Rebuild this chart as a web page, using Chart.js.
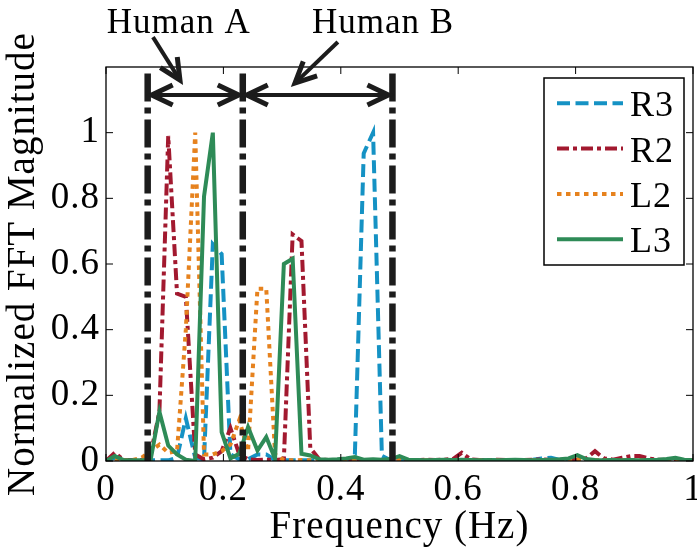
<!DOCTYPE html>
<html>
<head>
<meta charset="utf-8">
<script src="https://cdn.jsdelivr.net/npm/chart.js@4.4.1/dist/chart.umd.min.js"></script>
<style>
  html, body { margin: 0; padding: 0; background: #fff; }
  #wrap { width: 697px; height: 553px; }
</style>
</head>
<body>
<div id="wrap"><canvas id="fftChart" width="697" height="553"></canvas></div>
<script>
// FFT bins (Hz)
const freq = [
  0, 0.015, 0.030, 0.045, 0.061, 0.076, 0.091, 0.106, 0.121, 0.136,
  0.152, 0.167, 0.182, 0.197, 0.212, 0.227, 0.242, 0.258, 0.273, 0.288,
  0.303, 0.318, 0.333, 0.348, 0.364, 0.379, 0.394, 0.409, 0.424, 0.439,
  0.455, 0.470, 0.485, 0.500, 0.515, 0.530, 0.545, 0.561, 0.576, 0.591,
  0.606, 0.621, 0.636, 0.652, 0.667, 0.682, 0.697, 0.712, 0.727, 0.742,
  0.758, 0.773, 0.788, 0.803, 0.818, 0.833, 0.848, 0.864, 0.879, 0.894,
  0.909, 0.924, 0.939, 0.955, 0.970, 0.985, 1.000
];

const r3 = [
  0, 0.01, 0.002, 0.002, 0.002, 0.002, 0.002, 0.002, 0.01, 0.13,
  0.01, 0.005, 0.66, 0.63, 0.02, 0.005, 0.005, 0.02, 0.02, 0.003,
  0.002, 0.002, 0.002, 0.002, 0.002, 0.002, 0.002, 0.002, 0.02, 0.937,
  1.0, 0.016, 0.002, 0.002, 0.002, 0.002, 0.002, 0.002, 0.002, 0.002,
  0.002, 0.002, 0.002, 0.002, 0.002, 0.002, 0.002, 0.002, 0.004, 0.008,
  0.01, 0.003, 0.002, 0.002, 0.002, 0.002, 0.002, 0.002, 0.002, 0.002,
  0.002, 0.002, 0.002, 0.002, 0.002, 0.002, 0.002
];

const r2 = [
  0, 0.025, 0.003, 0.002, 0.003, 0.02, 0.15, 0.99, 0.51, 0.5,
  0.02, 0.005, 0.01, 0.03, 0.1, 0.02, 0.005, 0.003, 0.004, 0.003,
  0.005, 0.69, 0.67, 0.04, 0.004, 0.003, 0.002, 0.003, 0.002, 0.003,
  0.002, 0.003, 0.002, 0.003, 0.002, 0.003, 0.004, 0.003, 0.004, 0.006,
  0.025, 0.005, 0.003, 0.002, 0.004, 0.003, 0.002, 0.003, 0.004, 0.005,
  0.003, 0.002, 0.003, 0.004, 0.008, 0.03, 0.008, 0.004, 0.01, 0.015,
  0.015, 0.008, 0.004, 0.003, 0.002, 0.003, 0.002
];

const l2 = [
  0, 0.005, 0.002, 0.003, 0.01, 0.03, 0.05, 0.025, 0.03, 0.4,
  1.0, 0.02, 0.02, 0.03, 0.05, 0.125, 0.03, 0.525, 0.525, 0.02,
  0.003, 0.002, 0.003, 0.002, 0.003, 0.002, 0.002, 0.003, 0.002, 0.002,
  0.002, 0.002, 0.003, 0.006, 0.002, 0.002, 0.002, 0.002, 0.002, 0.002,
  0.002, 0.002, 0.002, 0.002, 0.002, 0.002, 0.002, 0.002, 0.002, 0.002,
  0.002, 0.002, 0.002, 0.005, 0.002, 0.002, 0.002, 0.002, 0.002, 0.002,
  0.002, 0.002, 0.002, 0.002, 0.005, 0.002, 0.002
];

const l3 = [
  0, 0.015, 0.003, 0.002, 0.002, 0.003, 0.15, 0.047, 0.02, 0.004,
  0, 0.806, 1.0, 0.088, 0.008, 0.022, 0.103, 0.032, 0.073, 0.007,
  0.6, 0.616, 0.022, 0.017, 0.005, 0.004, 0.005, 0.008, 0.012, 0.004,
  0.005, 0.004, 0.006, 0.015, 0.004, 0.003, 0.002, 0.003, 0.004, 0.003,
  0.004, 0.003, 0.002, 0.003, 0.002, 0.003, 0.004, 0.003, 0.002, 0.003,
  0.004, 0.005, 0.008, 0.018, 0.006, 0.003, 0.002, 0.003, 0.002, 0.003,
  0.002, 0.003, 0.004, 0.006, 0.01, 0.004, 0.002
];

const seriesLabels = ["R3", "R2", "L2", "L3"];
const xTickValues = [0, 0.2, 0.4, 0.6, 0.8, 1];
const xTickLabels = ["0", "0.2", "0.4", "0.6", "0.8", "1"];
const yTickValues = [0, 0.2, 0.4, 0.6, 0.8, 1];
const yTickLabels = ["0", "0.2", "0.4", "0.6", "0.8", "1"];

// annotation: boundaries between the two people, in Hz
const humanBounds = [0.071, 0.233, 0.488];
const humanNames = ["Human A", "Human B"];

const SERIF = '"Liberation Serif", "DejaVu Serif", serif';
Chart.defaults.font.family = SERIF;
Chart.defaults.color = "#000";

const toPoints = (vals) => vals.map((v, i) => ({ x: freq[i], y: v }));

function arrowHead(ctx, tx, ty, fx, fy, len, half) {
  const d = Math.hypot(tx - fx, ty - fy);
  const ux = (tx - fx) / d, uy = (ty - fy) / d;
  const bx = tx - ux * len, by = ty - uy * len;
  ctx.beginPath();
  ctx.moveTo(bx - uy * half, by + ux * half);
  ctx.lineTo(tx, ty);
  ctx.lineTo(bx + uy * half, by - ux * half);
  ctx.stroke();
}

function arrow(ctx, fx, fy, tx, ty, both) {
  ctx.lineWidth = 4;
  ctx.beginPath();
  ctx.moveTo(fx, fy);
  ctx.lineTo(tx, ty);
  ctx.stroke();
  ctx.lineWidth = 5;
  arrowHead(ctx, tx, ty, fx, fy, 21, 10);
  if (both) arrowHead(ctx, fx, fy, tx, ty, 21, 10);
}

const overlay = {
  id: "overlay",
  beforeDraw(chart) {
    chart.ctx.letterSpacing = "1px";
  },
  afterDatasetsDraw(chart) {
    const { ctx, scales: { x, y } } = chart;
    ctx.save();
    // dash-dot boundary lines
    ctx.strokeStyle = "#1c1c1c";
    ctx.lineWidth = 6.5;
    ctx.lineCap = "butt";
    ctx.setLineDash([28, 6, 6, 6]);
    humanBounds.forEach((b) => {
      const px = x.getPixelForValue(b);
      ctx.beginPath();
      ctx.moveTo(px, y.getPixelForValue(1.18));
      ctx.lineTo(px, y.getPixelForValue(0));
      ctx.stroke();
    });
    // double-headed range arrows
    ctx.setLineDash([]);
    ctx.lineJoin = "miter";
    const ay = y.getPixelForValue(1.115);
    for (let i = 0; i < humanBounds.length - 1; i++) {
      const a = x.getPixelForValue(humanBounds[i]) + 4;
      const b = x.getPixelForValue(humanBounds[i + 1]) - 4;
      arrow(ctx, a, ay, b, ay, true);
    }
    ctx.restore();
  },
  afterDraw(chart) {
    const { ctx, chartArea: area, scales: { x, y } } = chart;
    ctx.save();
    ctx.letterSpacing = "1px";
    // box + inward ticks
    ctx.strokeStyle = "#000";
    ctx.lineWidth = 1.3;
    ctx.setLineDash([]);
    ctx.strokeRect(area.left, area.top, area.right - area.left, area.bottom - area.top);
    ctx.lineWidth = 1;
    ctx.beginPath();
    xTickValues.forEach((v) => {
      const px = x.getPixelForValue(v);
      ctx.moveTo(px, area.bottom); ctx.lineTo(px, area.bottom - 7);
      ctx.moveTo(px, area.top); ctx.lineTo(px, area.top + 7);
    });
    yTickValues.forEach((v) => {
      const py = y.getPixelForValue(v);
      ctx.moveTo(area.left, py); ctx.lineTo(area.left + 7, py);
      ctx.moveTo(area.right, py); ctx.lineTo(area.right - 7, py);
    });
    ctx.stroke();

    // legend
    const boxW = 140, boxH = 187;
    const boxL = area.right - 9 - boxW, boxT = area.top + 11;
    ctx.fillStyle = "#fff";
    ctx.fillRect(boxL, boxT, boxW, boxH);
    ctx.lineWidth = 1.5;
    ctx.strokeRect(boxL, boxT, boxW, boxH);
    ctx.font = "36px " + SERIF;
    ctx.textBaseline = "alphabetic";
    ctx.textAlign = "left";
    chart.data.datasets.forEach((ds, i) => {
      const cy = boxT + 25.3 + i * 45.3;
      ctx.strokeStyle = ds.borderColor;
      ctx.lineWidth = ds.borderWidth;
      ctx.setLineDash(ds.borderDash || []);
      ctx.beginPath();
      ctx.moveTo(boxL + 13, cy);
      ctx.lineTo(boxL + 79, cy);
      ctx.stroke();
      ctx.fillStyle = "#000";
      ctx.fillText(ds.label, boxL + 86, cy + 13);
    });

    // "Human A / Human B" labels with pointer arrows
    ctx.setLineDash([]);
    ctx.strokeStyle = "#1c1c1c";
    ctx.font = "35px " + SERIF;
    ctx.textAlign = "center";
    ctx.fillStyle = "#000";
    const baseY = y.getPixelForValue(1.305);
    ctx.fillText(humanNames[0], x.getPixelForValue(0.124), baseY);
    ctx.fillText(humanNames[1], x.getPixelForValue(0.472), baseY);
    arrow(ctx, x.getPixelForValue(0.080), y.getPixelForValue(1.291),
      x.getPixelForValue(0.126), y.getPixelForValue(1.160), false);
    arrow(ctx, x.getPixelForValue(0.395), y.getPixelForValue(1.276),
      x.getPixelForValue(0.322), y.getPixelForValue(1.151), false);
    ctx.restore();
  },
};

const styles = [
  { color: "#1592c4", dash: [13, 5.5], order: 3 },
  { color: "#a2192f", dash: [12, 4, 4, 4], order: 2 },
  { color: "#e6821e", dash: [4.5, 4.5], order: 1 },
  { color: "#2e8b57", dash: [], order: 0 },
];
const allSeries = [r3, r2, l2, l3];

const ctx = document.getElementById("fftChart").getContext("2d");
const fftChart = new Chart(ctx, {
  type: "line",
  data: {
    datasets: allSeries.map((vals, i) => ({
      label: seriesLabels[i],
      data: toPoints(vals),
      borderColor: styles[i].color,
      borderDash: styles[i].dash,
      borderWidth: 4,
      pointRadius: 0,
      tension: 0,
      fill: false,
      order: styles[i].order,
    })),
  },
  options: {
    responsive: false,
    animation: false,
    layout: { padding: { top: 67, right: 4, left: 0, bottom: 0 } },
    plugins: {
      legend: { display: false },
      tooltip: { enabled: false },
    },
    scales: {
      x: {
        type: "linear",
        min: 0,
        max: 1,
        grid: { display: false, drawTicks: false },
        border: { display: false },
        afterBuildTicks: (s) => { s.ticks = xTickValues.map((v) => ({ value: v })); },
        afterFit: (s) => { s.height = 92; s.paddingLeft = 0; s.paddingRight = 0; },
        ticks: {
          maxRotation: 0,
          padding: 7,
          font: { size: 37 },
          callback: (v, i) => xTickLabels[i],
        },
        title: {
          display: true,
          text: "Frequency (Hz)",
          font: { size: 39, lineHeight: 1 },
          padding: { top: 0, bottom: 6 },
        },
      },
      y: {
        type: "linear",
        min: 0,
        max: 1.2,
        grid: { display: false, drawTicks: false },
        border: { display: false },
        afterBuildTicks: (s) => { s.ticks = yTickValues.map((v) => ({ value: v })); },
        afterFit: (s) => { s.width = 106; s.paddingTop = 0; s.paddingBottom = 0; },
        ticks: {
          padding: 6,
          font: { size: 37 },
          callback: (v, i) => yTickLabels[i],
        },
        title: {
          display: true,
          text: "Normalized FFT Magnitude",
          font: { size: 39, lineHeight: 1 },
          padding: { top: 4, bottom: 0 },
        },
      },
    },
  },
  plugins: [overlay],
});
</script>
</body>
</html>
